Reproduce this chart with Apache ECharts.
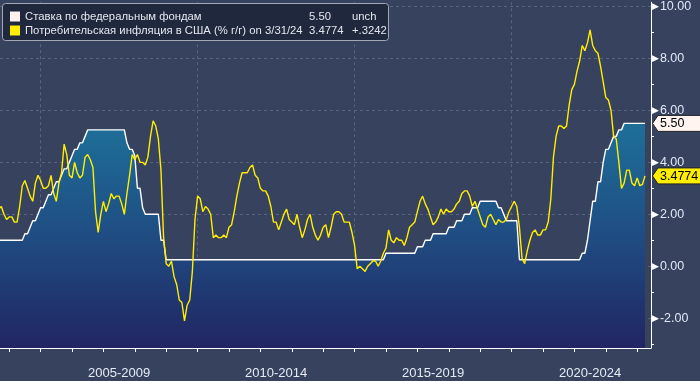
<!DOCTYPE html>
<html><head><meta charset="utf-8">
<script src="https://cdn.jsdelivr.net/npm/echarts@6/dist/echarts.min.js"></script>
<style>html,body{margin:0;padding:0;background:#37425f;}#c{width:700px;height:381px;}</style>
</head><body><div id="c"></div>
<script>
const startYear = 2003, startMonth = 8; // first monthly observation (month-end)
const fedRate = [
  1.00,1.00,1.00,1.00,1.00,
  1.00,1.00,1.00,1.00,1.00,1.25,1.25,1.50,1.75,1.75,2.00,2.25,
  2.25,2.50,2.75,2.75,3.00,3.25,3.25,3.50,3.75,3.75,4.00,4.25,
  4.50,4.50,4.75,4.75,5.00,5.25,5.25,5.25,5.25,5.25,5.25,5.25,
  5.25,5.25,5.25,5.25,5.25,5.25,5.25,5.25,4.75,4.50,4.50,4.25,
  3.00,3.00,2.25,2.00,2.00,2.00,2.00,2.00,2.00,1.00,1.00,0.25,
  0.25,0.25,0.25,0.25,0.25,0.25,0.25,0.25,0.25,0.25,0.25,0.25,
  0.25,0.25,0.25,0.25,0.25,0.25,0.25,0.25,0.25,0.25,0.25,0.25,
  0.25,0.25,0.25,0.25,0.25,0.25,0.25,0.25,0.25,0.25,0.25,0.25,
  0.25,0.25,0.25,0.25,0.25,0.25,0.25,0.25,0.25,0.25,0.25,0.25,
  0.25,0.25,0.25,0.25,0.25,0.25,0.25,0.25,0.25,0.25,0.25,0.25,
  0.25,0.25,0.25,0.25,0.25,0.25,0.25,0.25,0.25,0.25,0.25,0.25,
  0.25,0.25,0.25,0.25,0.25,0.25,0.25,0.25,0.25,0.25,0.25,0.50,
  0.50,0.50,0.50,0.50,0.50,0.50,0.50,0.50,0.50,0.50,0.50,0.75,
  0.75,0.75,1.00,1.00,1.00,1.25,1.25,1.25,1.25,1.25,1.25,1.50,
  1.50,1.50,1.75,1.75,1.75,2.00,2.00,2.00,2.25,2.25,2.25,2.50,
  2.50,2.50,2.50,2.50,2.50,2.50,2.25,2.25,2.00,1.75,1.75,1.75,
  1.75,1.75,0.25,0.25,0.25,0.25,0.25,0.25,0.25,0.25,0.25,0.25,
  0.25,0.25,0.25,0.25,0.25,0.25,0.25,0.25,0.25,0.25,0.25,0.25,
  0.25,0.25,0.50,0.50,1.00,1.75,2.50,2.50,3.25,3.25,4.00,4.50,
  4.50,4.75,5.00,5.00,5.25,5.25,5.50,5.50,5.50,5.50,5.50,5.50,
  5.50,5.50,5.50
];
const cpiYoY = [
  2.2,2.3,2.0,1.8,1.9,
  1.9,1.7,1.7,2.3,3.1,3.3,3.0,2.7,2.5,3.2,3.5,3.3,
  3.0,3.0,3.1,3.5,2.8,2.5,3.2,3.6,4.7,4.3,3.5,3.4,
  4.0,3.6,3.4,3.5,4.2,4.3,4.1,3.8,2.1,1.3,2.0,2.5,
  2.1,2.4,2.8,2.6,2.7,2.7,2.4,2.0,2.8,3.5,4.3,4.1,
  4.3,4.0,4.0,3.9,4.2,5.0,5.6,5.4,4.9,3.7,1.1,0.1,
  0.0,0.2,-0.4,-0.7,-1.3,-1.4,-2.1,-1.5,-1.3,-0.2,1.8,2.7,
  2.6,2.1,2.3,2.2,2.0,1.1,1.2,1.1,1.1,1.2,1.1,1.5,
  1.6,2.1,2.7,3.2,3.6,3.6,3.6,3.8,3.9,3.5,3.4,3.0,
  2.9,2.9,2.7,2.3,1.7,1.7,1.4,1.7,2.0,2.2,1.8,1.7,
  1.6,2.0,1.5,1.1,1.4,1.8,2.0,1.5,1.2,1.0,1.2,1.5,
  1.6,1.1,1.5,2.0,2.1,2.1,2.0,1.7,1.7,1.7,1.3,0.8,
  -0.1,0.0,-0.1,-0.2,0.0,0.1,0.2,0.2,0.0,0.2,0.5,0.7,
  1.4,1.0,0.9,1.1,1.0,1.0,0.8,1.1,1.5,1.6,1.7,2.1,
  2.5,2.7,2.4,2.2,1.9,1.6,1.7,1.9,2.2,2.0,2.2,2.1,
  2.1,2.2,2.4,2.5,2.8,2.9,2.9,2.7,2.3,2.5,2.2,1.9,
  1.6,1.5,1.9,2.0,1.8,1.6,1.8,1.7,1.7,1.8,2.1,2.3,
  2.5,2.3,1.5,0.3,0.1,0.6,1.0,1.3,1.4,1.2,1.2,1.4,
  1.4,1.7,2.6,4.2,5.0,5.4,5.4,5.3,5.4,6.2,6.8,7.0,
  7.5,7.9,8.5,8.3,8.6,9.1,8.5,8.3,8.2,7.7,7.1,6.5,
  6.4,6.0,5.0,4.9,4.0,3.0,3.2,3.7,3.7,3.2,3.1,3.4,
  3.1,3.1532,3.4774
];
const yearTicks = [2004,2005,2006,2007,2008,2009,2010,2011,2012,2013,2014,2015,2016,2017,2018,2019,2020,2021,2022,2023,2024];
const periodStarts = [2005,2010,2015,2020];
const periodLabels = ['2005-2009','2010-2014','2015-2019','2020-2024'];
const yLabelValues = [-2,0,2,4,6,8,10];
const yTickValues = [-3,-2,-1,0,1,2,3,4,5,6,7,8,9,10];
const legendNames = ['Ставка по федеральным фондам','Потребительская инфляция в США (% г/г) on 3/31/24'];
const legendValues = ['5.50','3.4774'];
const legendChanges = ['unch','+.3242'];
const seriesColors = ['#ffffff','#ffee00'];

const X_MIN = 2003.707, X_MAX = 2024.44, Y_MIN = -3.148, Y_MAX = 10.165;
const toTime = i => startYear + (startMonth + i) / 12;
const fedPts = fedRate.map((v,i) => [toTime(i), v]);
const cpiPts = cpiYoY.map((v,i) => [toTime(i), v]);
const periodMids = periodStarts.map(s => s + 2.5);

const chart = echarts.init(document.getElementById('c'), null, {renderer:'canvas'});
const FONT = '"Liberation Sans", Arial, sans-serif';
const grid = {left:0, right:49, top:0, bottom:33, containLabel:false};

const option = {
  backgroundColor:'#37425f',
  animation:false,
  grid: grid,
  xAxis:[{
    type:'value', min:X_MIN, max:X_MAX, position:'bottom',
    axisLine:{show:true, onZero:false, lineStyle:{color:'#ffffff', width:1}},
    axisTick:{show:true, customValues:yearTicks, length:4, lineStyle:{color:'#ffffff'}},
    axisLabel:{show:true, customValues:periodMids, margin:19, color:'#e6ebf5', fontSize:13, fontFamily:FONT,
      formatter: v => periodLabels[periodMids.indexOf(v)] || ''},
    splitLine:{show:false}
  },{
    type:'value', min:X_MIN, max:X_MAX, position:'bottom',
    axisLine:{show:false},
    axisTick:{show:true, customValues:periodStarts, length:34, lineStyle:{color:'#a0a7b6'}},
    axisLabel:{show:false},
    splitLine:{show:true, lineStyle:{color:'#58647f', type:[3,3], width:1}}
  }],
  yAxis:[{
    type:'value', position:'right', min:Y_MIN, max:Y_MAX,
    axisLine:{show:true, onZero:false, lineStyle:{color:'#ffffff', width:1}},
    axisTick:{show:true, customValues:yTickValues, length:3, lineStyle:{color:'#ffffff'}},
    axisLabel:{show:true, customValues:yLabelValues, margin:1, color:'#e0e8f5', fontSize:12.5, fontFamily:FONT,
      formatter: v => '{t|▶}' + v.toFixed(2),
      rich:{t:{fontSize:9, color:'#ffffff', padding:[0,1,0,0], fontFamily:'DejaVu Sans'}}},
    splitLine:{show:false}
  },{
    type:'value', position:'right', min:Y_MIN, max:Y_MAX,
    axisLine:{show:false},
    axisTick:{show:false, customValues:yLabelValues},
    axisLabel:{show:false},
    splitLine:{show:true, lineStyle:{color:'#58647f', type:[3,3], width:1}}
  }],
  series:[{
    name:legendNames[0], type:'line', data:fedPts, xAxisIndex:0, yAxisIndex:0,
    showSymbol:false, symbol:'none', z:2,
    lineStyle:{color:seriesColors[0], width:1.4},
    areaStyle:{origin:'start', opacity:1,
      color:{type:'linear', global:true, x:0, y:110, x2:0, y2:348,
        colorStops:[{offset:0, color:'#1d739b'},{offset:0.5, color:'#1f4f84'},{offset:1, color:'#212563'}]}}
  },{
    name:legendNames[1], type:'line', data:cpiPts, xAxisIndex:0, yAxisIndex:0,
    showSymbol:false, symbol:'none', z:3,
    lineStyle:{color:seriesColors[1], width:1.4}
  }]
};
chart.setOption(option);

// legend box and value tags
const g = [];
g.push({type:'rect', shape:{x:2.5, y:3.5, width:386, height:37, r:3},
  style:{fill:'#1f283d', stroke:'#a3a8b4', lineWidth:1}, z:100});
const rowY = [16.5, 30.5];
const sqColors = ['#fdf0f0', seriesColors[1]];
const LF = '11.3px ' + FONT;
legendNames.forEach((name, i) => {
  g.push({type:'rect', shape:{x:10, y:rowY[i]-5, width:10, height:10}, style:{fill:sqColors[i]}, z:101});
  g.push({type:'text', x:25, y:rowY[i], style:{text:name, fill:'#e4e6ee', font:LF, textVerticalAlign:'middle'}, z:101});
  g.push({type:'text', x:309, y:rowY[i], style:{text:legendValues[i], fill:'#e4e6ee', font:LF, textVerticalAlign:'middle'}, z:101});
  g.push({type:'text', x:352, y:rowY[i], style:{text:legendChanges[i], fill:'#e4e6ee', font:LF, textVerticalAlign:'middle'}, z:101});
});
const lastFed = fedRate[fedRate.length-1], lastCpi = cpiYoY[cpiYoY.length-1];
const axisX = chart.convertToPixel({xAxisIndex:0}, X_MAX);
const tags = [
  {v:lastFed, text:lastFed.toFixed(2), fill:'#fff4ef', h:16},
  {v:lastCpi, text:String(lastCpi), fill:'#ffee00', h:16}
];
tags.forEach(tg => {
  const y = chart.convertToPixel({yAxisIndex:0}, tg.v);
  const x0 = axisX + 1.5, x1 = x0 + 5.5, hh = tg.h/2;
  g.push({type:'polygon', shape:{points:[[x0,y],[x1,y-hh],[701,y-hh],[701,y+hh],[x1,y+hh]]},
    style:{fill:tg.fill, stroke:'#222222', lineWidth:1}, z:110});
  g.push({type:'text', x:x1+2, y:y+0.5, style:{text:tg.text, fill:'#000000', font:'12.5px '+FONT, textVerticalAlign:'middle'}, z:111});
});
chart.setOption({graphic:g});
</script></body></html>
